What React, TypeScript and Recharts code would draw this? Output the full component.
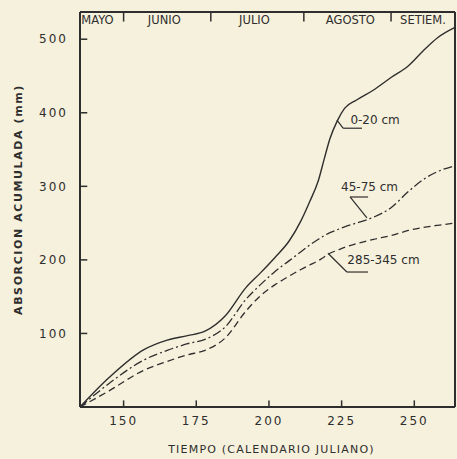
import { LineChart, Line, XAxis, YAxis, ReferenceLine, ReferenceDot } from 'recharts';

// dias julianos y absorcion acumulada (mm) por profundidad
const days = [135, 145, 157, 165, 172, 178, 185, 192, 197, 202, 207, 211, 214, 217, 219, 221, 223.5, 226, 230, 236, 242, 248, 253, 258, 264];
const cm0_20 = [0, 40, 78, 91, 97, 103, 124, 162, 182, 203, 226, 253, 279, 308, 337, 365, 389, 406, 417, 431, 448, 464, 484, 502, 516];
const cm45_75 = [0, 32, 64, 77, 86, 92, 109, 146, 166, 184, 199, 211, 220, 228, 233, 237, 241, 245, 250, 258, 271, 293, 309, 320, 328];
const cm285_345 = [0, 22, 50, 62, 71, 77, 94, 130, 151, 166, 178, 187, 193, 199, 204, 209, 213, 217, 222, 228, 233, 240, 244, 247, 250];

const xTicks = [150, 175, 200, 225, 250];
const yTicks = [100, 200, 300, 400, 500];

const monthBreaks = [150, 180, 212, 242];
const monthNames = ['MAYO', 'JUNIO', 'JULIO', 'AGOSTO', 'SETIEM.'];
const monthCenters = [141, 164, 195, 228, 253];

const data = days.map((d, i) => ({ day: d, a: cm0_20[i], b: cm45_75[i], c: cm285_345[i] }));

const INK = '#2e2e2e';
const FONT = '"DejaVu Sans", sans-serif';
const TOP = 537;
const txt = { fill: INK, fontSize: 11, fontFamily: FONT };

export default function App() {
  return (
    <div style={{ position: 'absolute', left: 0, top: 0, width: 457, height: 459, background: '#f6f1dc' }}>
      <LineChart width={457} height={459} data={data} margin={{ top: 12, right: 2, bottom: 0, left: 0 }}>
        <XAxis
          dataKey="day"
          type="number"
          domain={[135, 264]}
          ticks={xTicks}
          axisLine={{ stroke: INK, strokeWidth: 2 }}
          tickLine={false}
          tickSize={0}
          tickMargin={9}
          height={52}
          tick={{ ...txt, fontSize: 12, letterSpacing: 2 }}
          label={{ value: 'TIEMPO (CALENDARIO JULIANO)', position: 'insideBottom', offset: 6, dx: 4, ...txt, letterSpacing: 1.2 }}
        />
        <YAxis
          type="number"
          domain={[0, TOP]}
          ticks={yTicks}
          width={80}
          axisLine={{ stroke: INK, strokeWidth: 2 }}
          tickLine={false}
          tickSize={0}
          tickMargin={12}
          tick={{ ...txt, fontSize: 12, letterSpacing: 2 }}
          label={{
            content: (p: any) => {
              const vb = p.viewBox;
              const cx = vb.x + 18;
              const cy = vb.y + vb.height / 2 - 10;
              return (
                <text x={cx} y={cy} transform={`rotate(-90 ${cx} ${cy})`} textAnchor="middle" dominantBaseline="central"
                  fill={INK} fontSize={11} fontWeight="bold" fontFamily={FONT} letterSpacing={1.6}>
                  ABSORCION ACUMULADA (mm)
                </text>
              );
            },
          }}
        />

        {/* marco */}
        <ReferenceLine y={TOP} stroke={INK} strokeWidth={2} />
        <ReferenceLine x={264} stroke={INK} strokeWidth={2} />

        {/* marcas hacia dentro */}
        {xTicks.map((t) => (
          <ReferenceLine key={'xt' + t} segment={[{ x: t, y: 0 }, { x: t, y: 9 }]} stroke={INK} strokeWidth={1.5} />
        ))}
        {yTicks.map((t) => (
          <ReferenceLine key={'yt' + t} segment={[{ x: 135, y: t }, { x: 137.5, y: t }]} stroke={INK} strokeWidth={1.5} />
        ))}

        {/* meses */}
        {monthBreaks.map((m) => (
          <ReferenceLine key={'mb' + m} segment={[{ x: m, y: TOP }, { x: m, y: TOP - 13 }]} stroke={INK} strokeWidth={1.5} />
        ))}
        {monthNames.map((n, i) => (
          <ReferenceDot key={n} x={monthCenters[i]} y={526} r={0} stroke="none"
            label={{ value: n, position: 'center', ...txt, fontSize: 11.5 }} />
        ))}

        <Line type="monotone" dataKey="a" stroke={INK} strokeWidth={1.4} dot={false} isAnimationActive={false} />
        <Line type="monotone" dataKey="b" stroke={INK} strokeWidth={1.3} strokeDasharray="9 3 2 3" dot={false} isAnimationActive={false} />
        <Line type="monotone" dataKey="c" stroke={INK} strokeWidth={1.3} strokeDasharray="7 4" dot={false} isAnimationActive={false} />

        {/* rotulos de curvas */}
        <ReferenceLine segment={[{ x: 223.4, y: 390 }, { x: 225.5, y: 379 }]} stroke={INK} strokeWidth={1.2} />
        <ReferenceLine segment={[{ x: 225.5, y: 379 }, { x: 232, y: 379 }]} stroke={INK} strokeWidth={1.2} />
        <ReferenceDot x={236.5} y={390} r={0} stroke="none" label={{ value: '0-20 cm', position: 'center', ...txt, fontSize: 12 }} />

        <ReferenceLine segment={[{ x: 227.9, y: 285.5 }, { x: 234.1, y: 285.5 }]} stroke={INK} strokeWidth={1.2} />
        <ReferenceLine segment={[{ x: 227.9, y: 285.5 }, { x: 233.7, y: 257 }]} stroke={INK} strokeWidth={1.2} />
        <ReferenceDot x={234.6} y={299} r={0} stroke="none" label={{ value: '45-75 cm', position: 'center', ...txt, fontSize: 12 }} />

        <ReferenceLine segment={[{ x: 220.3, y: 209 }, { x: 226.8, y: 183.5 }]} stroke={INK} strokeWidth={1.2} />
        <ReferenceLine segment={[{ x: 226.8, y: 183.5 }, { x: 234.1, y: 183.5 }]} stroke={INK} strokeWidth={1.2} />
        <ReferenceDot x={239.4} y={200} r={0} stroke="none" label={{ value: '285-345 cm', position: 'center', ...txt, fontSize: 12 }} />
      </LineChart>
    </div>
  );
}
